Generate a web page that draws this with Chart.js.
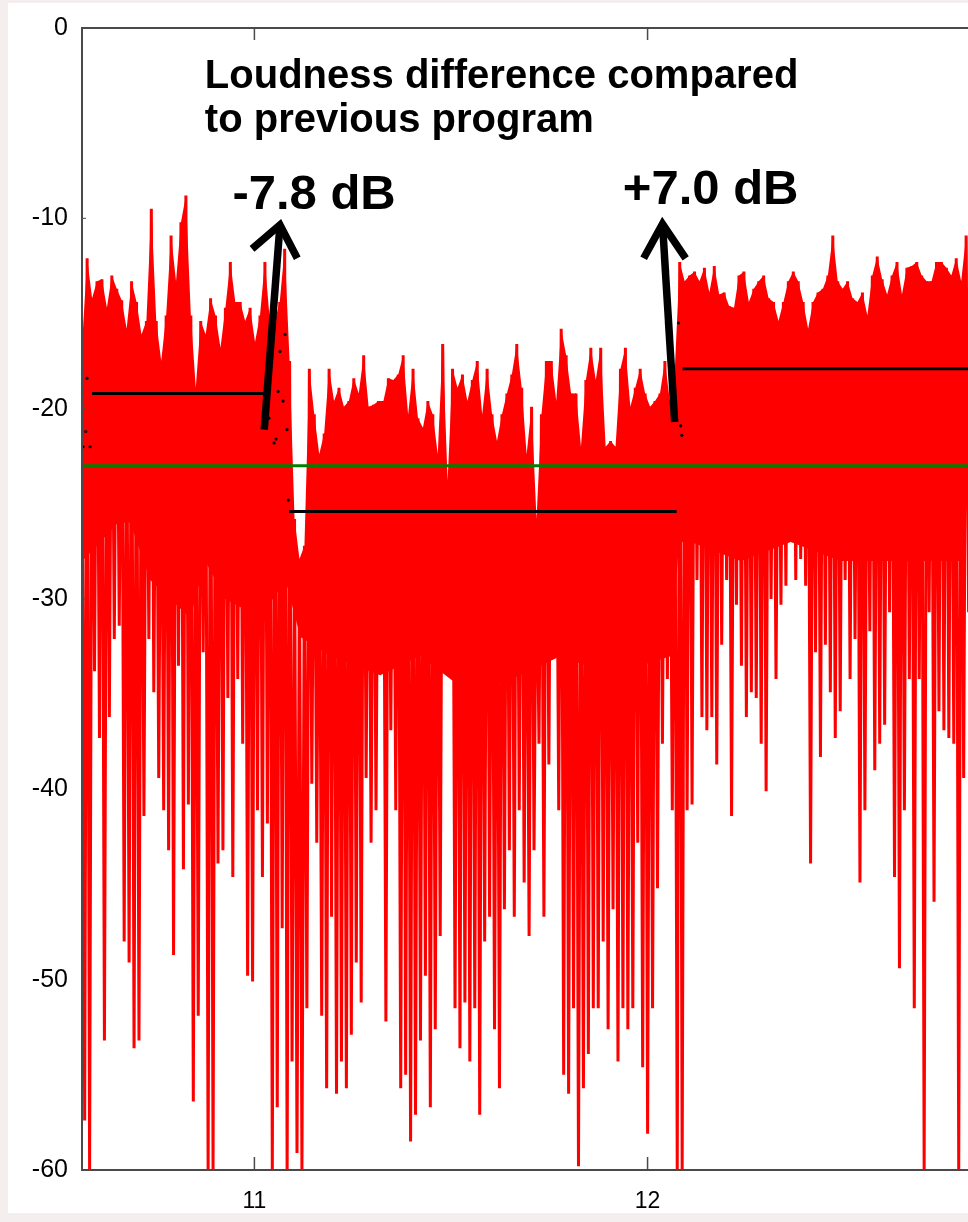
<!DOCTYPE html>
<html>
<head>
<meta charset="utf-8">
<script src="https://cdn.jsdelivr.net/npm/chart.js@4.4.1/dist/chart.umd.min.js"></script>
<style>
  html, body { margin: 0; padding: 0; background: #f4eeee; overflow: hidden; }
  #panel { position: absolute; left: 8px; top: 3px; width: 960px; height: 1210px; background: #fff; overflow: hidden; }
  canvas { display: block; }
</style>
</head>
<body>
<div id="panel"><canvas id="loudChart" width="964" height="1210"></canvas></div>
<script>
// short-term loudness, one peak and one dip per sample (dB)
const firstSampleTime = 10.562;
const sampleStep = 0.01256;

const peaksDb = [
  -16.5, -12.1, -14.2, -13.3, -13.2, -14.7, -13.0, -13.7, -14.3, -15.8, -13.3, -14.4, -16.1, -15.4, -9.5,
  -15.4, -17.5, -15.1, -10.9, -13.3, -10.2, -8.8, -15.1, -18.9, -15.4, -16.1, -14.2, -15.1, -16.8, -14.7,
  -12.3, -14.4, -14.4, -15.4, -14.7, -16.5, -15.1, -12.3, -15.4, -15.4, -14.4, -11.6, -17.5, -25.8, -27.9,
  -27.2, -17.9, -20.3, -22.4, -21.3, -17.9, -19.6, -18.9, -19.9, -19.6, -18.4, -19.2, -17.2, -19.9, -19.8,
  -19.6, -19.6, -18.4, -18.5, -18.2, -17.2, -20.3, -17.9, -20.5, -21.0, -19.6, -20.3, -22.4, -16.6, -23.8,
  -17.9, -18.9, -18.2, -19.6, -18.5, -17.5, -20.3, -17.9, -20.3, -21.7, -20.3, -19.2, -18.2, -16.6, -18.9,
  -22.4, -19.9, -25.8, -20.3, -17.5, -17.5, -19.6, -15.8, -17.2, -19.2, -19.2, -22.0, -18.5, -16.8, -18.5,
  -16.8, -22.0, -21.7, -22.0, -17.9, -16.8, -19.9, -18.9, -17.9, -19.2, -19.9, -19.6, -19.2, -17.5, -19.6,
  -18.0, -12.3, -13.3, -13.0, -12.8, -13.3, -12.6, -13.9, -12.5, -14.0, -13.9, -14.6, -14.7, -13.0, -12.8,
  -14.4, -13.7, -13.3, -13.0, -14.2, -14.4, -15.4, -14.4, -13.3, -12.8, -13.3, -14.4, -15.8, -14.4, -13.9,
  -13.7, -13.0, -10.9, -13.3, -13.7, -13.3, -14.2, -14.4, -13.9, -15.1, -13.0, -12.0, -13.2, -14.0, -13.0,
  -12.3, -14.0, -12.6, -12.5, -12.3, -13.0, -13.3, -13.3, -12.3, -12.3, -12.6, -13.0, -12.1, -13.3, -10.9
];

const troughsDb = [
  -57.4, -60, -33.8, -37.3, -53.2, -36.2, -32.1, -31.4, -48.0, -49.1, -53.6, -53.2, -41.4, -32.1, -34.9,
  -39.4, -41.1, -43.2, -48.7, -33.5, -44.2, -40.8, -56.4, -51.9, -32.8, -60, -60, -43.9, -43.2, -35.2,
  -44.6, -34.2, -37.6, -49.8, -50.1, -41.1, -44.6, -41.8, -60, -56.7, -47.3, -60, -54.3, -59.1, -60,
  -51.5, -39.7, -42.8, -51.9, -55.7, -46.7, -56.0, -54.3, -55.7, -52.9, -49.1, -51.2, -39.4, -42.8, -41.1,
  -33.8, -52.2, -36.9, -41.1, -55.7, -55.0, -58.5, -57.1, -53.2, -49.8, -56.7, -52.6, -47.7, -28.6, -33.5,
  -51.5, -53.6, -51.2, -54.3, -51.5, -57.1, -48.0, -46.7, -52.6, -55.7, -46.3, -43.2, -46.7, -41.1, -44.9,
  -47.7, -43.2, -37.6, -46.7, -38.7, -30.7, -41.1, -55.0, -56.0, -51.5, -59.8, -55.7, -53.9, -51.5, -51.5,
  -48.0, -52.6, -46.3, -54.3, -51.5, -52.6, -51.5, -42.8, -54.6, -58.1, -51.5, -45.2, -37.6, -34.2, -41.1,
  -60, -60, -41.1, -40.8, -29.0, -36.2, -36.9, -36.2, -38.7, -32.4, -29.0, -41.4, -30.3, -33.5, -36.2,
  -34.9, -35.2, -37.6, -40.1, -30.0, -34.2, -30.3, -29.3, -25.8, -29.0, -27.9, -29.3, -43.9, -32.8, -38.3,
  -32.4, -34.9, -37.3, -35.9, -29.0, -34.2, -32.1, -44.9, -41.1, -31.7, -39.0, -37.6, -36.6, -30.7, -44.6,
  -49.4, -41.1, -34.2, -51.5, -34.2, -60, -30.7, -45.9, -35.9, -36.9, -37.3, -37.6, -60, -39.4, -30.7
];

// lower edge of the dense (solid) upper part of the trace
const floorTimes = [10.562, 10.608, 10.653, 10.684, 10.735, 10.837, 10.875, 10.926, 11.015, 11.079, 11.117, 11.193,
  11.320, 11.422, 11.549, 11.677, 11.779, 11.906, 12.060, 12.080, 12.110, 12.237, 12.364, 12.491, 12.644, 12.830];
const floorDb = [-28, -27, -26, -26, -29, -31, -28, -30, -31, -29, -32, -33,
  -34, -33, -35, -34, -33, -34, -33, -27, -27, -28, -27, -28, -28, -28];

// program levels: [start, end, dB]
const levelPrev = [10.587, 11.027, -19.2];
const levelMid = [11.088, 12.074, -25.4];
const levelNext = [12.089, 12.9, -17.9];
const targetDb = -23.0;

// stray black sample dots
const dotTimes = [10.574, 10.571, 10.564, 10.582, 11.078, 11.065, 11.060, 11.073, 11.083, 11.055, 11.050, 11.037, 11.086, 12.079, 12.084, 12.087];
const dotDb = [-18.4, -21.2, -22.0, -22.0, -16.1, -17.0, -19.1, -19.6, -21.1, -21.6, -21.8, -20.5, -24.8, -15.5, -20.9, -21.4];

const xTicks = [11, 12];
const xMin = 10.5615;
const xMax = 12.815;

// annotation texts and arrows, in chart units (time, dB)
const noteLines = ["Loudness difference compared", "to previous program"];
const noteAt = [[10.874, -3.15], [10.874, -5.47]];
const deltaLabels = ["-7.8 dB", "+7.0 dB"];
const deltaAt = [[10.944, -9.5], [11.937, -9.25]];
// arrow: tail, tip, head left, head right
const arrows = [
  [[11.025, -21.1], [11.065, -10.35], [10.994, -11.6], [11.109, -12.1]],
  [[12.069, -20.7], [12.038, -10.3], [11.990, -12.1], [12.097, -12.1]]
];

const loudnessPoints = [];
const peakPoints = [];
peaksDb.forEach((p, i) => {
  const t = firstSampleTime + i * sampleStep;
  peakPoints.push({ x: t, y: p });
  loudnessPoints.push({ x: t, y: p });
  loudnessPoints.push({ x: t + sampleStep / 2, y: troughsDb[i] });
});

function seg(level) {
  return [{ x: level[0], y: level[2] }, { x: level[1], y: level[2] }];
}

const decorPlugin = {
  id: "decor",
  afterDatasetsDraw(chart) {
    const { ctx, chartArea: a, scales } = chart;
    const xs = scales.x, ys = scales.y;
    ctx.save();

    // frame (right side is off the picture)
    ctx.strokeStyle = "#4a4a4a";
    ctx.lineWidth = 2;
    ctx.beginPath();
    ctx.moveTo(a.right + 10, a.top);
    ctx.lineTo(a.left, a.top);
    ctx.lineTo(a.left, a.bottom);
    ctx.lineTo(a.right + 10, a.bottom);
    ctx.stroke();

    // inward ticks
    ctx.lineWidth = 1.5;
    xTicks.forEach((t) => {
      const px = xs.getPixelForValue(t);
      ctx.beginPath();
      ctx.moveTo(px, a.bottom);
      ctx.lineTo(px, a.bottom - 13);
      ctx.moveTo(px, a.top);
      ctx.lineTo(px, a.top + 12);
      ctx.stroke();
    });
    ctx.lineWidth = 1;
    ys.ticks.forEach((tk) => {
      const py = ys.getPixelForValue(tk.value);
      ctx.beginPath();
      ctx.moveTo(a.left, py);
      ctx.lineTo(a.left + 4, py);
      ctx.stroke();
    });

    // arrows
    ctx.strokeStyle = "#000";
    ctx.lineWidth = 7.5;
    ctx.lineCap = "butt";
    ctx.lineJoin = "miter";
    arrows.forEach((ar) => {
      const p = ar.map((q) => [xs.getPixelForValue(q[0]), ys.getPixelForValue(q[1])]);
      ctx.beginPath();
      ctx.moveTo(p[0][0], p[0][1]);
      ctx.lineTo(p[1][0], p[1][1]);
      ctx.stroke();
      ctx.beginPath();
      ctx.moveTo(p[2][0], p[2][1]);
      ctx.lineTo(p[1][0], p[1][1]);
      ctx.lineTo(p[3][0], p[3][1]);
      ctx.stroke();
    });

    // texts
    ctx.fillStyle = "#000";
    ctx.textAlign = "left";
    ctx.textBaseline = "alphabetic";
    ctx.font = 'bold 40px "Liberation Sans", Arial, sans-serif';
    noteLines.forEach((s, i) => {
      ctx.fillText(s, xs.getPixelForValue(noteAt[i][0]), ys.getPixelForValue(noteAt[i][1]));
    });
    ctx.font = 'bold 49px "Liberation Sans", Arial, sans-serif';
    deltaLabels.forEach((s, i) => {
      ctx.fillText(s, xs.getPixelForValue(deltaAt[i][0]), ys.getPixelForValue(deltaAt[i][1]));
    });
    ctx.restore();
  }
};

new Chart(document.getElementById("loudChart"), {
  type: "line",
  data: {
    datasets: [
      {
        // dense body of the trace: between the peaks and the floor
        data: peakPoints,
        borderColor: "rgba(0,0,0,0)",
        borderWidth: 0,
        backgroundColor: "#ff0000",
        pointRadius: 0,
        tension: 0,
        fill: 1,
        order: 7
      },
      {
        data: floorTimes.map((t, i) => ({ x: t, y: floorDb[i] })),
        borderColor: "rgba(0,0,0,0)",
        borderWidth: 0,
        pointRadius: 0,
        fill: false,
        order: 8
      },
      {
        data: loudnessPoints,
        borderColor: "#ff0000",
        borderWidth: 3,
        borderJoinStyle: "bevel",
        pointRadius: 0,
        tension: 0,
        fill: false,
        order: 4
      },
      {
        data: [{ x: xMin, y: targetDb }, { x: xMax + 0.1, y: targetDb }],
        borderColor: "#008000",
        borderWidth: 3,
        pointRadius: 0,
        order: 3
      },
      { data: seg(levelPrev), borderColor: "#000", borderWidth: 3, pointRadius: 0, order: 2 },
      { data: seg(levelMid), borderColor: "#000", borderWidth: 3, pointRadius: 0, order: 2 },
      { data: seg(levelNext), borderColor: "#000", borderWidth: 3, pointRadius: 0, order: 2 },
      {
        data: dotTimes.map((t, i) => ({ x: t, y: dotDb[i] })),
        showLine: false,
        pointRadius: 1.6,
        pointBorderWidth: 0,
        pointBackgroundColor: "#000",
        order: 1
      }
    ]
  },
  options: {
    responsive: false,
    animation: false,
    events: [],
    layout: { padding: { top: 25, right: 0, left: 0, bottom: 0 } },
    plugins: { legend: { display: false }, tooltip: { enabled: false } },
    scales: {
      x: {
        type: "linear",
        min: xMin,
        max: xMax,
        afterBuildTicks: (scale) => { scale.ticks = xTicks.map((v) => ({ value: v })); },
        afterFit: (scale) => { scale.height = 43; },
        grid: { display: false, drawTicks: false },
        border: { display: false },
        ticks: {
          padding: 18,
          color: "#000",
          font: { family: '"Liberation Sans", Arial, sans-serif', size: 23 },
          callback: (v) => String(v)
        }
      },
      y: {
        min: -60,
        max: 0,
        afterFit: (scale) => {
          scale.width = 74;
          scale.paddingTop = 0;
          scale.paddingBottom = 0;
        },
        grid: { display: false, drawTicks: false },
        border: { display: false },
        ticks: {
          stepSize: 10,
          padding: 14,
          color: "#000",
          font: { family: '"Liberation Sans", Arial, sans-serif', size: 25 }
        }
      }
    }
  },
  plugins: [decorPlugin]
});
</script>
</body>
</html>
